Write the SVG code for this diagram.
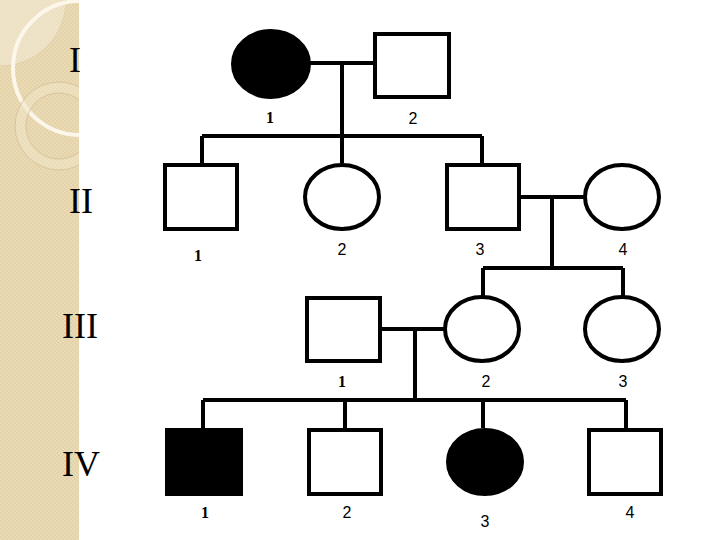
<svg xmlns="http://www.w3.org/2000/svg" width="720" height="540" viewBox="0 0 720 540">
<style>
.ln{stroke:#000;stroke-width:4;fill:none}
.open{fill:#fff;stroke:#000;stroke-width:4}
.aff{fill:#000;stroke:#000;stroke-width:4}
.gen{font-family:"Liberation Serif",serif;font-size:36px;fill:#000;text-anchor:middle}
.num{font-family:"Liberation Sans",Arial,sans-serif;font-size:16px;fill:#000;text-anchor:middle}
.numb{font-family:"Liberation Serif",serif;font-weight:bold;font-size:16px;fill:#000;text-anchor:middle}
</style>
<defs>
<pattern id="tex" width="4" height="4" patternUnits="userSpaceOnUse">
<rect width="4" height="4" fill="#EADBB6"/>
<rect width="2" height="2" fill="#E4D3A9"/>
<rect x="2" y="2" width="2" height="2" fill="#E4D3A9"/>
</pattern>
<clipPath id="strip"><rect x="0" y="0" width="79" height="540"/></clipPath>
</defs>
<rect width="720" height="540" fill="#fff"/>
<g id="decor" clip-path="url(#strip)">
<rect x="0" y="0" width="79" height="540" fill="url(#tex)"/>
<circle cx="0" cy="0" r="66" fill="#F3EBD6" opacity="0.6" stroke="#DCCBA3" stroke-width="0.8"/>
<circle cx="80" cy="68" r="67" fill="none" stroke="#FCF7EA" stroke-width="4"/>
<circle cx="59" cy="126" r="38.5" fill="none" stroke="#F0E4C6" stroke-width="10" opacity="0.6"/>
<circle cx="59" cy="126" r="44" fill="none" stroke="#D8C69E" stroke-width="1"/>
<circle cx="59" cy="126" r="33" fill="none" stroke="#D8C69E" stroke-width="1"/>
</g>
<g id="generations">
<text class="gen" x="75" y="72">I</text>
<text class="gen" x="81" y="213">II</text>
<text class="gen" x="80" y="338">III</text>
<text class="gen" x="81" y="476">IV</text>
</g>
<g id="connectors">
<path class="ln" d="M310 63H373M342 63V136M202 136H482M202 136V163M342 136V163M482 136V163"/>
<path class="ln" d="M521 197H585M552 197V268M483 268H623M483 268V296M623 268V296"/>
<path class="ln" d="M382 329H444M415 329V400M203 400H626M203 400V428M345 400V428M483 400V428M626 400V428"/>
</g>
<g id="I-1"><ellipse class="aff" cx="271" cy="64" rx="38" ry="33"/><text class="numb" x="270" y="123">1</text></g>
<g id="I-2"><rect class="open" x="375" y="34" width="74" height="63"/><text class="num" x="413" y="124">2</text></g>
<g id="II-1"><rect class="open" x="165" y="165" width="72" height="64"/><text class="numb" x="198" y="261">1</text></g>
<g id="II-2"><ellipse class="open" cx="342" cy="197" rx="37" ry="32"/><text class="num" x="342" y="255">2</text></g>
<g id="II-3"><rect class="open" x="447" y="165" width="72" height="64"/><text class="num" x="480" y="255">3</text></g>
<g id="II-4"><ellipse class="open" cx="622" cy="197" rx="37" ry="32"/><text class="num" x="623" y="255">4</text></g>
<g id="III-1"><rect class="open" x="307" y="298" width="73" height="63"/><text class="numb" x="342" y="387">1</text></g>
<g id="III-2"><ellipse class="open" cx="482" cy="329" rx="37" ry="32"/><text class="num" x="486" y="387">2</text></g>
<g id="III-3"><ellipse class="open" cx="622" cy="329" rx="37" ry="32"/><text class="num" x="623" y="387">3</text></g>
<g id="IV-1"><rect class="aff" x="167" y="430" width="74" height="64"/><text class="numb" x="205" y="518">1</text></g>
<g id="IV-2"><rect class="open" x="309" y="430" width="72" height="64"/><text class="num" x="347" y="518">2</text></g>
<g id="IV-3"><ellipse class="aff" cx="485" cy="462" rx="37" ry="32"/><text class="num" x="485" y="527">3</text></g>
<g id="IV-4"><rect class="open" x="589" y="430" width="72" height="64"/><text class="num" x="630" y="518">4</text></g>
</svg>
